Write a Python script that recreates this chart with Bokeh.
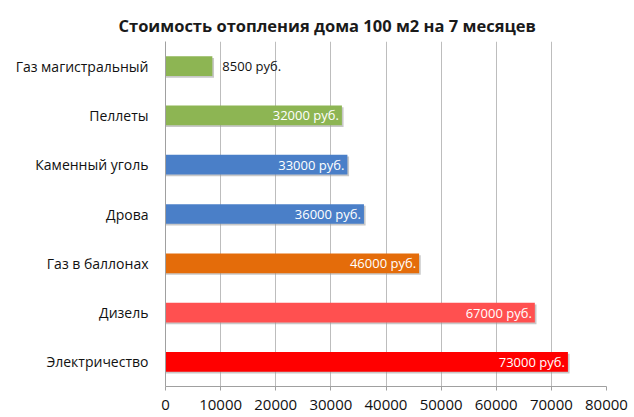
from bokeh.plotting import figure
from bokeh.models import ColumnDataSource, FixedTicker, Title
from bokeh.core.properties import value
from bokeh.transform import dodge
from bokeh.embed import file_html
from bokeh.resources import INLINE

categories = ["Газ магистральный", "Пеллеты", "Каменный уголь", "Дрова",
              "Газ в баллонах", "Дизель", "Электричество"]
values = [8500, 32000, 33000, 36000, 46000, 67000, 73000]
colors = ["#8DB553", "#8DB553", "#4A7FC8", "#4A7FC8", "#E46C0A", "#FF5050", "#FF0000"]
labels = [f"{v} руб." for v in values]
x_ticks = [0, 10000, 20000, 30000, 40000, 50000, 60000, 70000, 80000]

FONT = "Open Sans"

inside = [v >= 20000 for v in values]
src = ColumnDataSource(dict(cat=categories, val=values, color=colors, label=labels))
src_in = ColumnDataSource(dict(
    cat=[c for c, i in zip(categories, inside) if i],
    val=[v for v, i in zip(values, inside) if i],
    label=[l for l, i in zip(labels, inside) if i]))
src_out = ColumnDataSource(dict(
    cat=[c for c, i in zip(categories, inside) if not i],
    val=[v for v, i in zip(values, inside) if not i],
    label=[l for l, i in zip(labels, inside) if not i]))

p = figure(y_range=list(reversed(categories)), x_range=(0, 80000),
           width=634, height=417, output_backend="svg", toolbar_location=None,
           min_border_left=165, min_border_right=28, min_border_top=41,
           min_border_bottom=31)
p.title = Title(text="Стоимость отопления дома 100 м2 на 7 месяцев",
                text_font=FONT, text_font_size="16.5px", text_font_style="bold",
                text_color="#1a1a1a", align="left", offset=-47)
p.outline_line_color = None
p.background_fill_color = "white"

# shadow
p.hbar(y=dodge("cat", -0.035, range=p.y_range), left=0,
       right=dodge("val", 300), height=0.4, source=src, fill_color="#9a9a9a",
       line_color=None, fill_alpha=0.55)
p.hbar(y="cat", left=0, right="val", height=0.4, source=src,
       fill_color="color", line_color=None)

p.text(x="val", y="cat", text="label", source=src_in, text_color="white",
       text_align="right", text_baseline="middle", x_offset=-3,
       text_font=value(FONT), text_font_size="13px")
p.text(x="val", y="cat", text="label", source=src_out, text_color="#111111",
       text_align="left", text_baseline="middle", x_offset=10,
       text_font=value(FONT), text_font_size="13px")

p.xaxis.ticker = FixedTicker(ticks=x_ticks)
p.xaxis.major_label_text_font = FONT
p.xaxis.major_label_text_font_size = "15px"
p.xaxis.major_label_text_color = "#111111"
p.xaxis.axis_line_color = "#a0a0a0"
p.xaxis.major_tick_line_color = "#a0a0a0"
p.xaxis.major_tick_out = 4
p.xaxis.major_tick_in = 0
p.xaxis.minor_tick_line_color = None
p.xaxis.major_label_standoff = 9

p.yaxis.major_label_text_font = FONT
p.yaxis.major_label_text_font_size = "14px"
p.yaxis.major_label_text_color = "#111111"
p.yaxis.axis_line_color = "#a0a0a0"
p.yaxis.major_tick_line_color = None
p.yaxis.major_label_standoff = 11

p.xgrid.grid_line_color = "#bdbdbd"
p.xgrid.ticker = FixedTicker(ticks=x_ticks)
p.ygrid.grid_line_color = None
p.y_range.range_padding = 0

open("out.html", "w").write(file_html(p, INLINE))
